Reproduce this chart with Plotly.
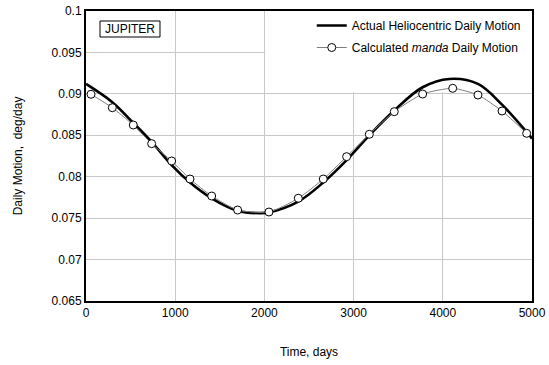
import plotly.graph_objects as go

# Actual heliocentric daily motion
actual_days = [0, 295, 530, 736, 960, 1166, 1409, 1700, 1950, 2051, 2380, 2660,
               2922, 3176, 3456, 3774, 4073, 4394, 4664, 4940, 5000]
actual_motion = [0.0912, 0.0890, 0.0865, 0.0842, 0.0814, 0.0793, 0.0774, 0.0759,
                 0.0756, 0.0757, 0.0770, 0.0793, 0.0820, 0.0850, 0.0880, 0.0908,
                 0.0918, 0.0912, 0.0887, 0.0854, 0.0846]

# Calculated manda daily motion (markers)
manda_days = [56, 295, 530, 736, 960, 1166, 1409, 1700, 2051, 2380, 2660, 2922,
              3176, 3456, 3774, 4111, 4394, 4664, 4940]
manda_motion = [0.08995, 0.08833, 0.08624, 0.08399, 0.08190, 0.07972, 0.07767,
                0.07598, 0.07574, 0.07740, 0.07972, 0.08242, 0.08512, 0.08785,
                0.08998, 0.09067, 0.08986, 0.08793, 0.08524]

x_ticks = [0, 1000, 2000, 3000, 4000, 5000]
y_ticks = [0.065, 0.07, 0.075, 0.08, 0.085, 0.09, 0.095, 0.1]
y_tick_text = ["0.065", "0.07", "0.075", "0.08", "0.085", "0.09", "0.095", "0.1"]

FONT = "Liberation Sans, Arial, sans-serif"

fig = go.Figure()
fig.add_trace(go.Scatter(
    x=actual_days, y=actual_motion, mode="lines",
    line=dict(color="black", width=2.6, shape="spline", smoothing=1.0),
    name="Actual Heliocentric Daily Motion", legendgroup="a",
))
fig.add_trace(go.Scatter(
    x=manda_days, y=manda_motion, mode="lines+markers",
    line=dict(color="#7f7f7f", width=1, shape="spline", smoothing=0.6),
    marker=dict(symbol="circle", size=8, color="white",
                line=dict(color="black", width=1)),
    name="Calculated <i>manda</i> Daily Motion", legendgroup="b",
))

# white backdrop behind the legend area (hides gridlines, not the curves)
fig.add_shape(type="rect", xref="x", yref="y", x0=2010, x1=5000, y0=0.0902, y1=0.1,
              fillcolor="white", line=dict(width=0), layer="between")

# JUPITER label box
fig.add_shape(type="rect", xref="paper", yref="paper", x0=0.0314, x1=0.1659,
              y0=0.9103, y1=0.9655, fillcolor="white",
              line=dict(color="black", width=1), layer="above")
fig.add_annotation(text="JUPITER", xref="paper", yref="paper", x=0.0987, y=0.938,
                   xanchor="center", yanchor="middle", showarrow=False,
                   font=dict(family=FONT, size=12, color="black"))

fig.update_layout(
    template="none",
    width=549, height=365,
    margin=dict(l=86, r=17, t=11, b=64, pad=0),
    paper_bgcolor="white", plot_bgcolor="white",
    font=dict(family=FONT, size=12, color="black"),
    showlegend=True,
    legend=dict(x=0.986, y=1.0, xanchor="right", yanchor="top",
                bgcolor="rgba(0,0,0,0)", borderwidth=0,
                font=dict(family=FONT, size=12, color="black"),
                tracegroupgap=3, traceorder="grouped"),
)
fig.update_xaxes(
    range=[0, 5000], tickvals=x_ticks, ticks="", showgrid=True, automargin=False,
    gridcolor="#c8c8c8", gridwidth=1, zeroline=False,
    showline=True, linecolor="black", linewidth=2, mirror=True,
    title=dict(text="Time, days", standoff=28, font=dict(size=12)),
)
fig.update_yaxes(
    range=[0.065, 0.1], tickvals=y_ticks, ticktext=y_tick_text, ticks="",
    showgrid=True, gridcolor="#c8c8c8", gridwidth=1, zeroline=False, automargin=False,
    showline=True, linecolor="black", linewidth=2, mirror=True,
    title=dict(text="Daily Motion,  deg/day", standoff=26, font=dict(size=12)),
)

fig.write_html("out.html")
